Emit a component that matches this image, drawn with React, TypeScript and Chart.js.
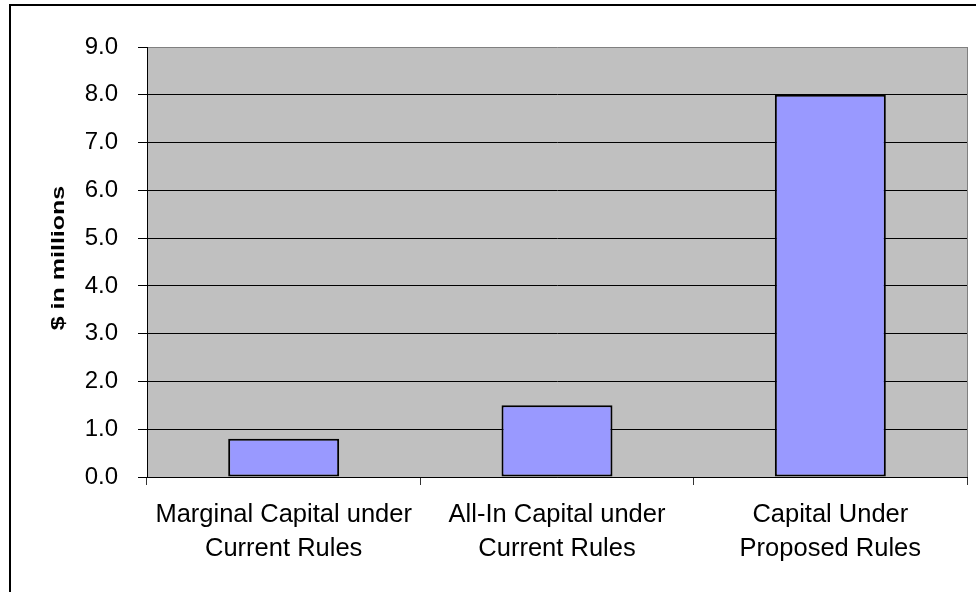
import React, { useEffect, useRef } from "react";
import { Chart, registerables } from "chart.js";

Chart.register(...registerables);

const categories: string[][] = [
  ["Marginal Capital under", "Current Rules"],
  ["All-In Capital under", "Current Rules"],
  ["Capital Under", "Proposed Rules"],
];
const values: number[] = [0.8, 1.5, 8.0];
const yMin = 0;
const yMax = 9;
const yStep = 1;
const yTitle = "$ in millions";

const FONT = '"Liberation Sans", Arial, sans-serif';

const plotDecor = {
  id: "plotDecor",
  beforeDraw(chart: any) {
    const { ctx, chartArea: a } = chart;
    ctx.save();
    ctx.fillStyle = "#C0C0C0";
    ctx.fillRect(a.left, a.top, a.right - a.left, a.bottom - a.top);
    ctx.restore();
  },
  afterDraw(chart: any) {
    const { ctx, chartArea: a } = chart;
    ctx.save();
    ctx.strokeStyle = "#808080";
    ctx.lineWidth = 1;
    ctx.beginPath();
    ctx.moveTo(Math.round(a.right) + 0.5, a.top);
    ctx.lineTo(Math.round(a.right) + 0.5, a.bottom);
    ctx.stroke();
    ctx.restore();

    ctx.save();
    ctx.translate(59, (a.top + a.bottom) / 2 - 4);
    ctx.rotate(-Math.PI / 2);
    ctx.scale(1, 0.7);
    ctx.font = `bold 25px ${FONT}`;
    ctx.textAlign = "center";
    ctx.textBaseline = "middle";
    ctx.fillStyle = "#000";
    ctx.fillText(yTitle, 0, 0);
    ctx.restore();
  },
};

export default function App() {
  const ref = useRef<HTMLCanvasElement | null>(null);

  useEffect(() => {
    if (!ref.current) return;
    const chart = new Chart(ref.current, {
      type: "bar",
      data: {
        labels: categories,
        datasets: [
          {
            data: values,
            backgroundColor: "#9999FF",
            borderColor: "#000000",
            borderWidth: 2,
            borderSkipped: false,
            barPercentage: 0.406,
            categoryPercentage: 1,
          },
        ],
      },
      options: {
        animation: false,
        responsive: false,
        devicePixelRatio: 1,
        layout: { padding: { left: 0, right: 9, top: 47, bottom: 0 } },
        plugins: {
          legend: { display: false },
          tooltip: { enabled: false },
          title: { display: false },
        },
        scales: {
          x: {
            offset: true,
            grid: {
              offset: true,
              drawOnChartArea: false,
              drawTicks: true,
              tickLength: 8,
              color: "#333333",
              tickColor: "#333333",
            },
            border: { display: true, color: "#000000", width: 1 },
            ticks: {
              color: "#000000",
              font: { family: FONT, size: 25.5, lineHeight: 1.33 },
              padding: 13,
              maxRotation: 0,
              minRotation: 0,
              autoSkip: false,
            },
            afterFit(scale: any) {
              scale.height = 115;
            },
          },
          y: {
            min: yMin,
            max: yMax,
            ticks: {
              stepSize: yStep,
              color: "#000000",
              font: { family: FONT, size: 24 },
              padding: 20,
              callback: (v: any) => Number(v).toFixed(1),
            },
            grid: {
              color: (c: any) => (c.tick && c.tick.value === yMax ? "#808080" : "#000000"),
              tickColor: "#000000",
              tickLength: 9,
              lineWidth: 1,
            },
            border: { display: true, color: "#000000", width: 1 },
            afterFit(scale: any) {
              scale.width = 147;
            },
          },
        },
      },
      plugins: [plotDecor],
    });
    return () => chart.destroy();
  }, []);

  return (
    <div
      style={{
        position: "fixed",
        left: 0,
        top: 0,
        width: 976,
        height: 592,
        background: "#ffffff",
        overflow: "hidden",
      }}
    >
      <div
        style={{
          position: "absolute",
          left: 9,
          top: 4,
          width: 1200,
          height: 900,
          borderTop: "2px solid #000",
          borderLeft: "2px solid #000",
        }}
      />
      <canvas
        ref={ref}
        width={976}
        height={592}
        style={{ position: "absolute", left: 0, top: 0, width: 976, height: 592 }}
      />
    </div>
  );
}
